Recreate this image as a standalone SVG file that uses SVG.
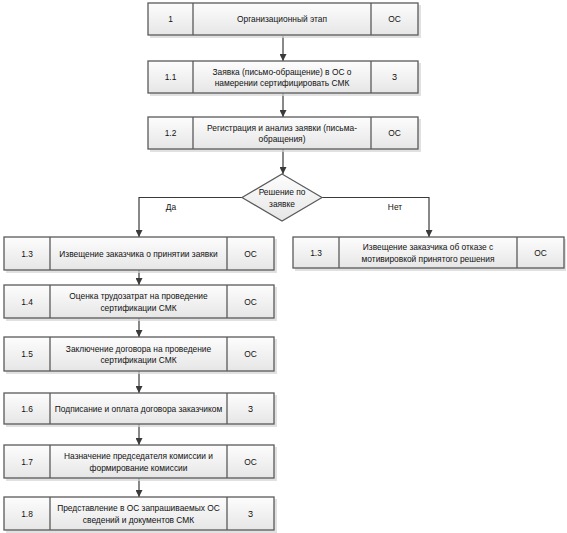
<svg xmlns="http://www.w3.org/2000/svg" width="567" height="533" viewBox="0 0 567 533">
<defs>
<linearGradient id="g" x1="0" y1="0" x2="0" y2="1">
<stop offset="0" stop-color="#fdfdfd"/>
<stop offset="1" stop-color="#e6e6e6"/>
</linearGradient>
<marker id="ah" viewBox="0 0 10 10" refX="10" refY="5" markerWidth="7" markerHeight="7" markerUnits="userSpaceOnUse" orient="auto">
<path d="M0,0 L10,5 L0,10 z" fill="#3a3a3a"/>
</marker>
</defs>
<style>
.sh{fill:#d4d4d4;opacity:0.7}
.bx{fill:url(#g);stroke:#5a5a5a;stroke-width:1.3}
.dv{stroke:#5a5a5a;stroke-width:1.3}
text{font-family:"Liberation Sans",Arial,sans-serif;font-size:8.4px;fill:#111;text-anchor:middle;dominant-baseline:central}
.c{fill:none;stroke:#3a3a3a;stroke-width:1.2;marker-end:url(#ah)}
</style>
<rect width="567" height="533" fill="#fff"/>
<g id="connectors">
<path class="c" d="M283,36 V61"/>
<path class="c" d="M283,93 V117"/>
<path class="c" d="M283,149 V174"/>
<path class="c" d="M242,197.5 H139 V237"/>
<path class="c" d="M322,197.5 H429 V237"/>
<path class="c" d="M139,270 V285"/>
<path class="c" d="M139,318 V337"/>
<path class="c" d="M139,371 V393"/>
<path class="c" d="M139,424 V445"/>
<path class="c" d="M139,478 V497"/>
<text x="171" y="207">Да</text>
<text x="395" y="207">Нет</text>
</g>
<g id="n1">
<rect class="sh" x="150" y="5" width="271" height="33"/>
<rect class="bx" x="148" y="3" width="270" height="32"/>
<line class="dv" x1="193" y1="3" x2="193" y2="35"/><line class="dv" x1="371" y1="3" x2="371" y2="35"/>
<text x="170.5" y="19">1</text><text x="282" y="19">Организационный этап</text><text x="394.5" y="19">ОС</text>
</g>
<g id="n1_1">
<rect class="sh" x="150" y="63" width="271" height="33"/>
<rect class="bx" x="148" y="61" width="270" height="32"/>
<line class="dv" x1="193" y1="61" x2="193" y2="93"/><line class="dv" x1="371" y1="61" x2="371" y2="93"/>
<text x="170.5" y="77">1.1</text><text x="282" y="71.5">Заявка (письмо-обращение) в ОС о</text><text x="282" y="83">намерении сертифицировать СМК</text><text x="394.5" y="77">З</text>
</g>
<g id="n1_2">
<rect class="sh" x="150" y="119" width="271" height="33"/>
<rect class="bx" x="148" y="117" width="270" height="32"/>
<line class="dv" x1="193" y1="117" x2="193" y2="149"/><line class="dv" x1="371" y1="117" x2="371" y2="149"/>
<text x="170.5" y="133">1.2</text><text x="282" y="127.5">Регистрация и анализ заявки (письма-</text><text x="282" y="139">обращения)</text><text x="394.5" y="133">ОС</text>
</g>
<g id="decision">
<path d="M282,174 L322,197.5 L282,221 L242,197.5 Z" fill="url(#g)" stroke="#5a5a5a" stroke-width="1.2"/>
<text x="282" y="192">Решение по</text><text x="282" y="203.5">заявке</text>
</g>
<g id="n1_3r">
<rect class="sh" x="295" y="239" width="271" height="32"/>
<rect class="bx" x="293" y="237" width="271" height="31"/>
<line class="dv" x1="339" y1="237" x2="339" y2="268"/><line class="dv" x1="517" y1="237" x2="517" y2="268"/>
<text x="316" y="252.5">1.3</text><text x="428" y="247">Извещение заказчика об отказе с</text><text x="428" y="258.5">мотивировкой принятого решения</text><text x="540.5" y="252.5">ОС</text>
</g>
<g id="n1_3">
<rect class="sh" x="6" y="239" width="271" height="34"/>
<rect class="bx" x="4" y="237" width="270" height="33"/>
<line class="dv" x1="50" y1="237" x2="50" y2="270"/><line class="dv" x1="227" y1="237" x2="227" y2="270"/>
<text x="27" y="253.5">1.3</text><text x="138.5" y="253.5">Извещение заказчика о принятии заявки</text><text x="250.5" y="253.5">ОС</text>
</g>
<g id="n1_4">
<rect class="sh" x="6" y="287" width="271" height="34"/>
<rect class="bx" x="4" y="285" width="270" height="33"/>
<line class="dv" x1="50" y1="285" x2="50" y2="318"/><line class="dv" x1="227" y1="285" x2="227" y2="318"/>
<text x="27" y="301.5">1.4</text><text x="138.5" y="296">Оценка трудозатрат на проведение</text><text x="138.5" y="307.5">сертификации СМК</text><text x="250.5" y="301.5">ОС</text>
</g>
<g id="n1_5">
<rect class="sh" x="6" y="339" width="271" height="35"/>
<rect class="bx" x="4" y="337" width="270" height="34"/>
<line class="dv" x1="50" y1="337" x2="50" y2="371"/><line class="dv" x1="227" y1="337" x2="227" y2="371"/>
<text x="27" y="354">1.5</text><text x="138.5" y="348.5">Заключение договора на проведение</text><text x="138.5" y="360">сертификации СМК</text><text x="250.5" y="354">ОС</text>
</g>
<g id="n1_6">
<rect class="sh" x="6" y="395" width="271" height="32"/>
<rect class="bx" x="4" y="393" width="270" height="31"/>
<line class="dv" x1="50" y1="393" x2="50" y2="424"/><line class="dv" x1="227" y1="393" x2="227" y2="424"/>
<text x="27" y="408.5">1.6</text><text x="138.5" y="408.5">Подписание и оплата договора заказчиком</text><text x="250.5" y="408.5">З</text>
</g>
<g id="n1_7">
<rect class="sh" x="6" y="447" width="271" height="34"/>
<rect class="bx" x="4" y="445" width="270" height="33"/>
<line class="dv" x1="50" y1="445" x2="50" y2="478"/><line class="dv" x1="227" y1="445" x2="227" y2="478"/>
<text x="27" y="461.5">1.7</text><text x="138.5" y="456">Назначение председателя комиссии и</text><text x="138.5" y="467.5">формирование комиссии</text><text x="250.5" y="461.5">ОС</text>
</g>
<g id="n1_8">
<rect class="sh" x="6" y="499" width="271" height="34"/>
<rect class="bx" x="4" y="497" width="270" height="33"/>
<line class="dv" x1="50" y1="497" x2="50" y2="530"/><line class="dv" x1="227" y1="497" x2="227" y2="530"/>
<text x="27" y="513.5">1.8</text><text x="138.5" y="508">Представление в ОС запрашиваемых ОС</text><text x="138.5" y="519.5">сведений и документов СМК</text><text x="250.5" y="513.5">З</text>
</g>
</svg>
